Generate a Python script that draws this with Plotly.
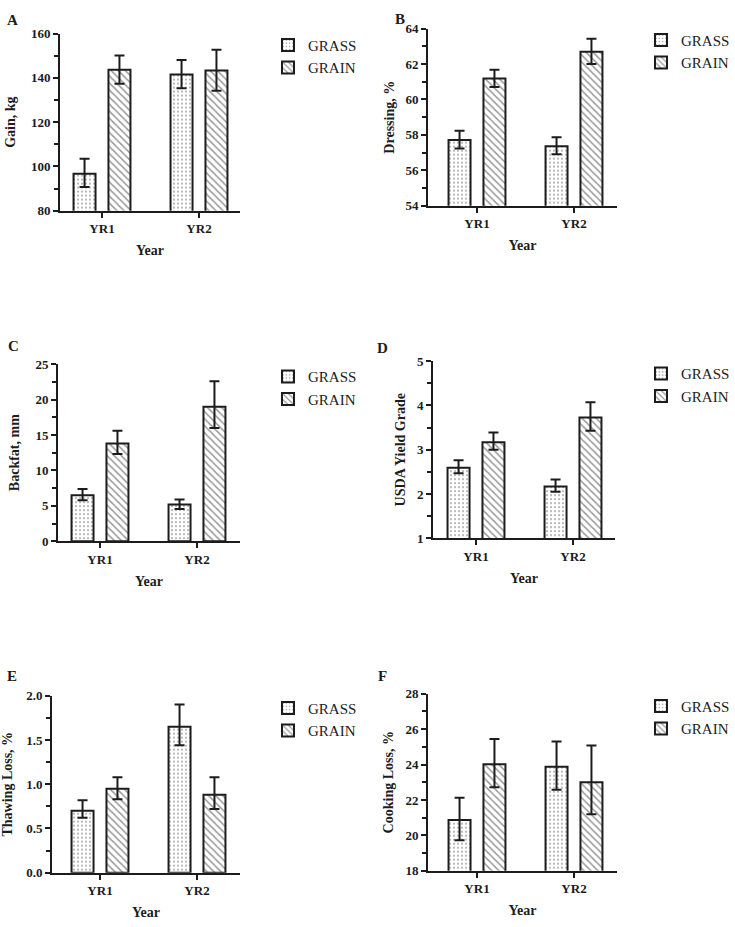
import plotly.graph_objects as go

# ---------------- data ----------------
years = ["YR1", "YR2"]
series_names = ["GRASS", "GRAIN"]

gain_grass = [96.7, 141.5]
gain_grass_up = [6.7, 6.6]
gain_grass_dn = [6.0, 6.2]
gain_grain = [143.7, 143.3]
gain_grain_up = [6.4, 9.4]
gain_grain_dn = [6.4, 9.1]

dress_grass = [57.71, 57.36]
dress_grass_up = [0.52, 0.51]
dress_grass_dn = [0.48, 0.46]
dress_grain = [61.18, 62.69]
dress_grain_up = [0.50, 0.74]
dress_grain_dn = [0.48, 0.69]

backfat_grass = [6.48, 5.19]
backfat_grass_up = [0.9, 0.7]
backfat_grass_dn = [0.7, 0.65]
backfat_grain = [13.8, 19.0]
backfat_grain_up = [1.8, 3.6]
backfat_grain_dn = [1.5, 3.0]

yg_grass = [2.59, 2.17]
yg_grass_up = [0.17, 0.16]
yg_grass_dn = [0.12, 0.12]
yg_grain = [3.17, 3.73]
yg_grain_up = [0.22, 0.34]
yg_grain_dn = [0.17, 0.30]

thaw_grass = [0.70, 1.65]
thaw_grass_up = [0.12, 0.25]
thaw_grass_dn = [0.08, 0.21]
thaw_grain = [0.95, 0.88]
thaw_grain_up = [0.13, 0.20]
thaw_grain_dn = [0.12, 0.16]

cook_grass = [20.87, 23.87]
cook_grass_up = [1.26, 1.43]
cook_grass_dn = [1.15, 1.29]
cook_grain = [24.02, 23.0]
cook_grain_up = [1.42, 2.07]
cook_grain_dn = [1.30, 1.80]

panel_letters = ["A", "B", "C", "D", "E", "F"]
y_titles = ["Gain, kg", "Dressing, %", "Backfat, mm", "USDA Yield Grade",
            "Thawing Loss, %", "Cooking Loss, %"]
y_ranges = [[80, 160], [54, 64], [0, 25], [1, 5], [0, 2], [18, 28]]
y_dticks = [20, 2, 5, 1, 0.5, 2]
y_minor = [10, 1, 2.5, 0.5, 0.25, 1]
y_formats = ["d", "d", "d", "d", ".1f", "d"]
x_title = "Year"

panels_data = [
    (gain_grass, gain_grass_up, gain_grass_dn, gain_grain, gain_grain_up, gain_grain_dn),
    (dress_grass, dress_grass_up, dress_grass_dn, dress_grain, dress_grain_up, dress_grain_dn),
    (backfat_grass, backfat_grass_up, backfat_grass_dn, backfat_grain, backfat_grain_up, backfat_grain_dn),
    (yg_grass, yg_grass_up, yg_grass_dn, yg_grain, yg_grain_up, yg_grain_dn),
    (thaw_grass, thaw_grass_up, thaw_grass_dn, thaw_grain, thaw_grain_up, thaw_grain_dn),
    (cook_grass, cook_grass_up, cook_grass_dn, cook_grain, cook_grain_up, cook_grain_dn),
]

# ---------------- layout geometry (pixels) ----------------
W, H = 735, 927
# (x_left, x_right, y_top, y_bottom, YR1 px, YR2 px)
geom = [
    (60, 240, 27, 207, 102, 199),
    (428, 617, 22, 202, 477, 574),
    (58, 240, 363, 543, 100, 197),
    (433, 615, 360, 540, 476, 573),
    (52, 240, 700, 880, 100, 197),
    (428, 617, 698, 878, 477, 574),
]
letter_pos = [(12, 13), (400, 12), (13, 345), (382, 347), (12, 680), (383, 680)]
legend_pos = [(268, 22), (641, 17), (268, 359), (641, 356), (268, 696), (641, 694)]
ytitle_standoff = [12, 8, 12, 8, 12, 8]

FONT = "Liberation Serif, Times New Roman, serif"
INK = "#1c1c1c"

fig = go.Figure()

patterns = [
    dict(shape=".", fgcolor="#555555", bgcolor="white", size=4, solidity=0.22),
    dict(shape="\\", fgcolor="#333333", bgcolor="white", size=5, solidity=0.3),
]

layout_axes = {}
annotations = []
for i in range(6):
    n = "" if i == 0 else str(i + 1)
    xl, xr, yt, yb, c0, c1 = geom[i]
    d = c1 - c0
    xr_range = [(xl - c0) / d, (xr - c0) / d]
    vals = panels_data[i]
    for s in range(2):
        v, up, dn = vals[s * 3], vals[s * 3 + 1], vals[s * 3 + 2]
        fig.add_trace(go.Bar(
            x=years, y=v, name=series_names[s],
            xaxis="x" + n, yaxis="y" + n,
            legend="legend" + n,
            marker=dict(color="white", line=dict(color=INK, width=2),
                        pattern=patterns[s]),
            error_y=dict(type="data", symmetric=False, array=up, arrayminus=dn,
                         color=INK, thickness=2, width=5),
        ))
    layout_axes["xaxis" + n] = dict(
        domain=[xl / W, xr / W], anchor="y" + n, type="category",
        range=xr_range, showline=True, linecolor=INK, linewidth=2,
        ticks="outside", ticklen=5, tickwidth=2, tickcolor=INK,
        showgrid=False, zeroline=False,
        tickfont=dict(family=FONT, size=13, color=INK, weight="bold"),
        title=dict(text=x_title, standoff=10,
                   font=dict(family=FONT, size=14, color=INK, weight="bold")),
    )
    layout_axes["yaxis" + n] = dict(
        domain=[1 - yb / H, 1 - yt / H], anchor="x" + n,
        range=y_ranges[i], dtick=y_dticks[i], tick0=y_ranges[i][0],
        tickformat=y_formats[i],
        showline=True, linecolor=INK, linewidth=2,
        ticks="outside", ticklen=5, tickwidth=2, tickcolor=INK,
        minor=dict(dtick=y_minor[i], ticks="outside", ticklen=4, tickwidth=2,
                   tickcolor=INK),
        showgrid=False, zeroline=False,
        tickfont=dict(family=FONT, size=13, color=INK, weight="bold"),
        title=dict(text=y_titles[i], standoff=ytitle_standoff[i],
                   font=dict(family=FONT, size=14, color=INK, weight="bold")),
    )
    lx, ly = legend_pos[i]
    layout_axes["legend" + n] = dict(
        x=lx / W, y=1 - ly / H, xanchor="left", yanchor="top",
        bgcolor="rgba(0,0,0,0)", borderwidth=0,
        font=dict(family=FONT, size=15, color=INK),
    )
    px, py = letter_pos[i]
    annotations.append(dict(
        text=panel_letters[i], x=px / W, y=1 - py / H, xref="paper", yref="paper",
        xanchor="center", yanchor="middle", showarrow=False,
        font=dict(family=FONT, size=15, color=INK, weight="bold"),
    ))

fig.update_layout(
    width=W, height=H, margin=dict(l=0, r=0, t=0, b=0),
    paper_bgcolor="white", plot_bgcolor="white",
    barmode="group", bargap=0.28, bargroupgap=0.37,
    showlegend=True, annotations=annotations,
    **layout_axes,
)

page_fix = (
    "var de=document.documentElement, b=document.body;"
    "[de,b].forEach(function(e){e.style.margin='0';e.style.padding='0';"
    "e.style.overflow='hidden';e.style.height='927px';e.style.width='735px';});"
)

fig.write_html(
    "out.html",
    config={"displayModeBar": False},
    post_script=page_fix,
)
